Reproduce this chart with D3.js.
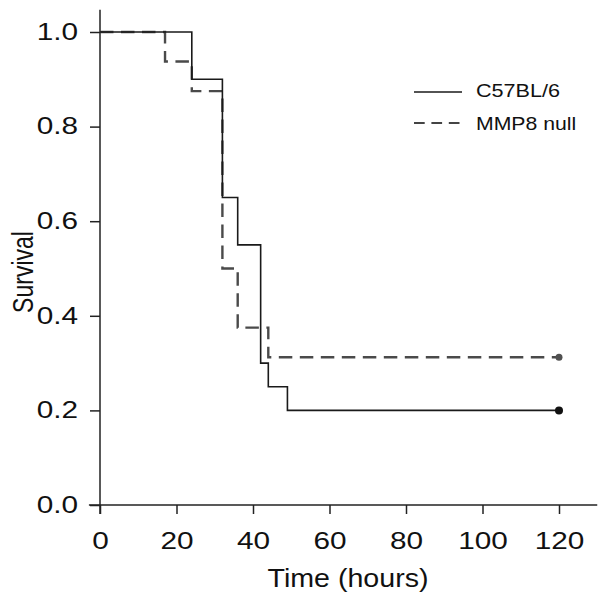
<!DOCTYPE html>
<html><head><meta charset="utf-8">
<script src="https://cdn.jsdelivr.net/npm/d3@7"></script>
<style>body{margin:0;background:#fff}svg{display:block}</style>
</head><body><svg id="c" width="606" height="601"></svg>
<script>
const wtTimes = [0, 24, 32, 36, 42, 44, 49, 120];
const wtSurvival = [1.0, 0.9, 0.65, 0.55, 0.3, 0.25, 0.2, 0.2];
const nullTimes = [0, 17, 24, 32, 36, 44, 120];
const nullSurvival = [1.0, 0.9375, 0.875, 0.5, 0.375, 0.3125, 0.3125];
const xTicks = [0, 20, 40, 60, 80, 100, 120];
const yTicks = [0.0, 0.2, 0.4, 0.6, 0.8, 1.0];
const seriesNames = ["C57BL/6", "MMP8 null"];
const xTitle = "Time (hours)";
const yTitle = "Survival";

const svg = d3.select("#c");
const x = d3.scaleLinear().domain([0, 120]).range([100, 559]);
const y = d3.scaleLinear().domain([0, 1]).range([505, 32]);
const font = "'Liberation Sans', Arial, sans-serif";
const axisColor = "#222";
const textColor = "#111";
const stretch = 1.24;

// axis lines
svg.append("line").attr("x1", x(-2.9)).attr("x2", x(130)).attr("y1", y(0)).attr("y2", y(0))
  .attr("stroke", axisColor).attr("stroke-width", 1.5);
svg.append("line").attr("x1", x(0)).attr("x2", x(0)).attr("y1", y(-0.019)).attr("y2", y(1.047))
  .attr("stroke", axisColor).attr("stroke-width", 1.5);

// x axis ticks
const gx = svg.append("g").attr("transform", `translate(0,${y(0)})`)
  .call(d3.axisBottom(x).tickValues(xTicks).tickSize(9).tickSizeOuter(0)
    .tickFormat(d3.format("d")));
gx.select(".domain").remove();
gx.selectAll(".tick line").attr("stroke", axisColor).attr("stroke-width", 1.5);
gx.selectAll(".tick text").attr("font-family", font).attr("font-size", 24).attr("fill", textColor)
  .attr("y", 44).attr("dy", 0).attr("transform", `scale(${stretch},1)`);

// y axis ticks
const gy = svg.append("g").attr("transform", `translate(${x(0)},0)`)
  .call(d3.axisLeft(y).tickValues(yTicks).tickSize(10).tickSizeOuter(0)
    .tickFormat(d3.format(".1f")));
gy.select(".domain").remove();
gy.selectAll(".tick line").attr("stroke", axisColor).attr("stroke-width", 1.5);
gy.selectAll(".tick text").attr("font-family", font).attr("font-size", 24).attr("fill", textColor)
  .attr("x", -22 / stretch).attr("dy", "0.3em").attr("transform", `scale(${stretch},1)`);

// titles
svg.append("text").attr("transform", "translate(348,587) scale(1.1,1)").attr("text-anchor", "middle")
  .attr("font-family", font).attr("font-size", 26).attr("fill", textColor).text(xTitle);
svg.append("text").attr("transform", "translate(33,272) rotate(-90) scale(1,1.3)").attr("text-anchor", "middle")
  .attr("font-family", font).attr("font-size", 23).attr("fill", textColor).text(yTitle);

// survival curves
const line = d3.line().x(d => x(d[0])).y(d => y(d[1])).curve(d3.curveStepAfter);
const wt = wtTimes.map((t, i) => [t, wtSurvival[i]]);
const nl = nullTimes.map((t, i) => [t, nullSurvival[i]]);

svg.append("path").attr("d", line(nl)).attr("fill", "none").attr("stroke", "#4a4a4a")
  .attr("stroke-width", 2.4).attr("stroke-dasharray", "13.5,7.5");
svg.append("path").attr("d", line(wt)).attr("fill", "none").attr("stroke", "#1a1a1a")
  .attr("stroke-width", 1.6);

svg.append("circle").attr("cx", x(nullTimes[nullTimes.length - 1])).attr("cy", y(nullSurvival[nullSurvival.length - 1]))
  .attr("r", 3.5).attr("fill", "#505050");
svg.append("circle").attr("cx", x(wtTimes[wtTimes.length - 1])).attr("cy", y(wtSurvival[wtSurvival.length - 1]))
  .attr("r", 4).attr("fill", "#111");

// legend
const lg = svg.append("g");
lg.append("line").attr("x1", 414).attr("x2", 462).attr("y1", 92).attr("y2", 92)
  .attr("stroke", "#1a1a1a").attr("stroke-width", 1.5);
lg.append("line").attr("x1", 414).attr("x2", 461).attr("y1", 123).attr("y2", 123)
  .attr("stroke", "#444").attr("stroke-width", 2).attr("stroke-dasharray", "10.7,6.7");
lg.append("text").attr("transform", "translate(476,97) scale(1.2,1)").attr("font-family", font)
  .attr("font-size", 18).attr("fill", textColor).text(seriesNames[0]);
lg.append("text").attr("transform", "translate(476,130) scale(1.18,1)").attr("font-family", font)
  .attr("font-size", 18).attr("fill", textColor).text(seriesNames[1]);
</script>
</body></html>
